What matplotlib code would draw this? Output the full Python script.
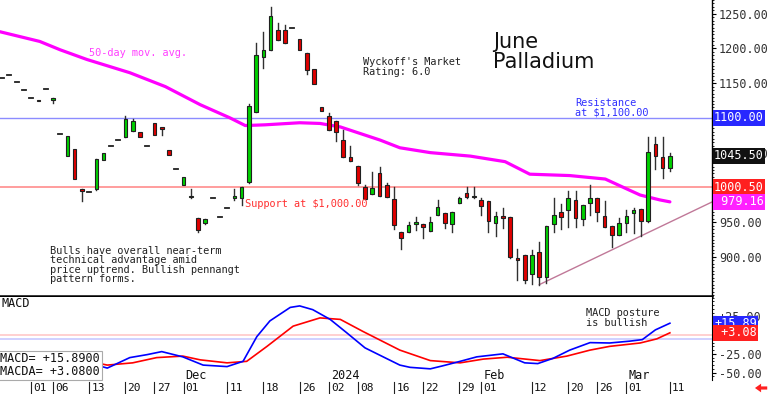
import matplotlib
matplotlib.use("Agg")
import matplotlib.pyplot as plt
import matplotlib.transforms as mtransforms
from matplotlib.patches import Rectangle, FancyArrow
from matplotlib.ticker import MultipleLocator

# Daily bars, index 0 = Oct 26 2023 ... index 92 = Mar 11 2024
opens = [1158, 1161, 1151, 1140, 1128, 1126, 1142, 1126, 1077, 1045,
         1055, 997, 993, 997, 1040, 1059, 1068, 1073, 1081, 1079,
         1059, 1092, 1086, 1054, 1027, 1004, 986, 956, 949, 985,
         957, 970, 985, 984, 1008, 1109, 1188, 1198, 1226, 1227,
         1230, 1214, 1194, 1171, 1116, 1103, 1096, 1068, 1043, 1031,
         1001, 991, 1021, 1004, 983, 936, 936, 948, 948, 937,
         960, 963, 947, 978, 992, 986, 982, 981, 949, 958,
         957, 899, 903, 875, 907, 871, 947, 965, 968, 982,
         955, 978, 984, 959, 945, 932, 949, 963, 969, 951,
         1063, 1044, 1028]
highs = [1158, 1161, 1151, 1140, 1128, 1126, 1142, 1128, 1077, 1074,
         1055, 997, 993, 1041, 1050, 1059, 1068, 1102, 1098, 1079,
         1059, 1092, 1086, 1054, 1027, 1015, 997, 956, 955, 985,
         957, 970, 998, 1001, 1120, 1208, 1223, 1259, 1237, 1234,
         1230, 1214, 1194, 1171, 1116, 1107, 1096, 1083, 1060, 1031,
         1004, 1022, 1030, 1006, 1000, 936, 950, 958, 948, 958,
         982, 963, 965, 986, 1001, 1001, 985, 981, 965, 970,
         957, 911, 903, 910, 921, 945, 985, 976, 995, 995,
         975, 1004, 984, 981, 945, 956, 968, 970, 969, 1073,
         1073, 1073, 1050]
lows = [1158, 1161, 1151, 1140, 1128, 1124, 1142, 1121, 1077, 1045,
        1012, 981, 993, 996, 1040, 1059, 1068, 1073, 1081, 1073,
        1059, 1076, 1075, 1046, 1027, 1004, 985, 936, 947, 985,
        957, 970, 982, 975, 1006, 1109, 1172, 1198, 1212, 1208,
        1230, 1197, 1163, 1149, 1110, 1083, 1067, 1044, 1038, 1003,
        983, 991, 988, 986, 940, 911, 936, 939, 927, 937,
        960, 942, 936, 977, 984, 985, 960, 936, 930, 942,
        898, 867, 862, 861, 859, 862, 936, 940, 943, 943,
        946, 960, 952, 943, 914, 932, 936, 935, 930, 950,
        1027, 1014, 1024]
closes = [1158, 1161, 1151, 1140, 1128, 1124, 1142, 1128, 1077, 1074,
          1012, 995, 993, 1041, 1050, 1059, 1068, 1099, 1096, 1073,
          1059, 1076, 1084, 1046, 1027, 1015, 987, 939, 955, 985,
          957, 970, 987, 1000, 1117, 1190, 1197, 1246, 1212, 1208,
          1230, 1197, 1169, 1149, 1110, 1083, 1079, 1044, 1038, 1006,
          983, 999, 988, 986, 946, 927, 946, 949, 943, 950,
          972, 949, 965, 985, 986, 987, 973, 952, 959, 956,
          900, 896, 867, 903, 871, 945, 960, 958, 984, 956,
          975, 984, 964, 943, 932, 949, 959, 968, 952, 1051,
          1045, 1028, 1045.5]

# 50-day moving average (knots)
ma_idx = [-0.3, 5.2, 8.0, 11.7, 17.6, 22.5, 27.3, 31.4, 33.5, 36.2, 41.0, 43.8,
          46.6, 52.1, 54.8, 59.0, 64.5, 69.3, 72.7, 78.2, 83.1, 85.8, 87.9, 90.6, 92.0]
ma_val = [1224, 1210, 1198, 1184, 1165, 1145, 1119, 1100, 1089, 1090, 1093, 1092,
          1087, 1068, 1057, 1050, 1045, 1037, 1019, 1017, 1012, 999, 989, 982, 979.16]

# pennant support trend line
trend_idx = [74, 97.8]
trend_val = [860, 979]

# MACD and its signal line
macd_idx = [-0.3, 2.5, 6.6, 9.0, 14.5, 17.6, 20.0, 22.0, 24.9, 27.7, 31.0, 33.2, 35.1,
            36.9, 39.7, 41.0, 42.8, 45.2, 47.5, 50.0, 52.5, 54.8, 56.2, 59.0, 60.7,
            63.1, 65.4, 69.0, 72.0, 73.8, 75.9, 78.2, 81.0, 83.7, 86.5, 88.2, 90.0, 92.0]
macd_val = [-26, -24, -23, -29, -44, -30, -26, -22, -29, -40, -42, -35, -2,
            19, 37, 39, 34, 21, 3, -17, -29, -40, -43, -45, -41,
            -35, -29, -25, -37, -38, -31, -20, -10, -10.5, -8, -6, 7, 15.89]
sig_idx = [-0.3, 6.6, 9.0, 14.5, 18.0, 21.3, 24.9, 27.3, 31.0, 33.7, 36.5, 40.1,
           43.8, 46.6, 49.7, 54.8, 59.0, 63.1, 66.3, 69.6, 74.1, 77.8, 81.0, 83.7,
           87.9, 90.2, 92.0]
sig_val = [-29, -26, -29, -40, -37, -30, -28, -33, -37, -35, -15, 12,
           23, 21, 5, -20, -34, -37, -32, -29.5, -34, -28, -20, -15,
           -10.5, -5, 3.08]

date_ticks = [4, 7, 12, 17, 21, 25, 31, 36, 41, 45, 49, 54, 58, 63, 66, 73, 78, 82, 86, 92]
date_labels = ["01", "06", "13", "20", "27", "01", "11", "18", "26", "02", "08",
               "16", "22", "29", "01", "12", "20", "26", "01", "11"]
month_ticks = [25, 45, 66, 86]
month_labels = ["Dec", "2024", "Feb", "Mar"]

# 1000 and 1100 are hidden under the marker boxes on the original
price_ticks = [900, 950, 1050, 1150, 1200, 1250]
macd_ticks = [25, -25, -50]
macd_tick_labels = ["+25.00", "-25.00", "-50.00"]

MONO = "DejaVu Sans Mono"
W, H = 768, 394


def fx(x):
    return x / W


def fy(y):
    return 1 - y / H


fig = plt.figure(figsize=(7.68, 3.94), dpi=100)
ax = fig.add_axes([0, fy(296), fx(712), 1 - fy(296) + 0.001])
ax2 = fig.add_axes([0, fy(380), fx(712), fy(297) - fy(380)])

xlim = (-0.28, 97.8)

# --- price panel ---
ax.axhline(1100, color="#8c8cff", lw=1, zorder=1)
ax.axhline(1000.5, color="#ff8c8c", lw=1.2, zorder=1)
ax.plot(trend_idx, trend_val, color="#c07898", lw=1, zorder=1)
ax.plot(ma_idx, ma_val, color="#ff00ff", lw=2.3, zorder=2, solid_capstyle="round")

for i, (o, h, l, c) in enumerate(zip(opens, highs, lows, closes)):
    if h > max(o, c) or l < min(o, c):
        ax.plot([i, i], [l, h], color="#303030", lw=1, zorder=3)
    if o == c:
        ax.plot([i - 0.28, i + 0.28], [o, o], color="#202020", lw=1.3, zorder=4)
        continue
    col = "#00d000" if c > o else "#e00000"
    ax.add_patch(Rectangle((i - 0.25, min(o, c)), 0.5, max(abs(c - o), 2.2),
                           facecolor=col, edgecolor="#202020", lw=0.8, zorder=4))

ax.set_xlim(*xlim)
ax.set_ylim(843.7, 1270.2)
ax.set_xticks([])
ax.yaxis.tick_right()
ax.set_yticks(price_ticks)
ax.set_yticklabels([f"{v:.2f}" for v in price_ticks], family=MONO, fontsize=8.5, color="#333333")
ax.yaxis.set_minor_locator(MultipleLocator(5))
ax.tick_params(axis="y", which="major", length=3, pad=2)
ax.tick_params(axis="y", which="minor", length=1.5)
for s in ["left", "top"]:
    ax.spines[s].set_visible(False)
ax.spines["bottom"].set_linewidth(1.8)
ax.spines["right"].set_linewidth(1)

yblend = mtransforms.blended_transform_factory(ax.transAxes, ax.transData)
for val, txt, colr in [(1100, "1100.00", "#2828ff"), (1045.5, "1045.50", "#111111"),
                       (1000.5, "1000.50", "#ff2020"), (979.16, "979.16", "#ff20ff")]:
    ax.text(1.003, val, txt.rjust(7), transform=yblend, ha="left", va="center", family=MONO,
            fontsize=8.5, color="white", zorder=10, clip_on=False,
            bbox=dict(boxstyle="square,pad=0.12", fc=colr, ec="none"))

# annotations
fig.text(fx(89), fy(53), "50-day mov. avg.", color="#ff40ff", family=MONO, fontsize=7.4, va="center")
fig.text(fx(363), fy(67), "Wyckoff's Market\nRating: 6.0", color="#222222", family=MONO,
         fontsize=7.4, va="center", linespacing=0.95)
fig.text(fx(493), fy(52), "June\nPalladium", color="#111111", fontsize=15, va="center", linespacing=0.95)
fig.text(fx(575), fy(107.5), "Resistance\nat $1,100.00", color="#3030ff", family=MONO,
         fontsize=7.4, va="center", linespacing=0.95)
fig.text(fx(245), fy(204), "Support at $1,000.00", color="#ff3030", family=MONO, fontsize=7.4, va="center")
fig.text(fx(50), fy(265), "Bulls have overall near-term\ntechnical advantage amid\n"
         "price uptrend. Bullish pennangt\npattern forms.", color="#222222", family=MONO,
         fontsize=7.4, va="center", linespacing=0.95)
fig.text(fx(586), fy(318), "MACD posture\nis bullish", color="#222222", family=MONO,
         fontsize=7.4, va="center", linespacing=0.95)

# --- MACD panel ---
ax2.axhline(0, color="#ffc8c8", lw=1.2, zorder=1)
ax2.axhline(-4.5, color="#c8c8ff", lw=1.2, zorder=1)
ax2.plot(sig_idx, sig_val, color="#ff0000", lw=1.2, zorder=3)
ax2.plot(macd_idx, macd_val, color="#0000ff", lw=1.2, zorder=4)
ax2.set_xlim(*xlim)
ax2.set_ylim(-59.9, 50.9)
ax2.set_xticks([])
ax2.yaxis.tick_right()
ax2.set_yticks(macd_ticks)
ax2.set_yticklabels(macd_tick_labels, family=MONO, fontsize=8.5, color="#333333")
ax2.yaxis.set_minor_locator(MultipleLocator(5))
ax2.tick_params(axis="y", which="major", length=3, pad=2)
ax2.tick_params(axis="y", which="minor", length=1.5)
for s in ["left", "top", "bottom"]:
    ax2.spines[s].set_visible(False)

yblend2 = mtransforms.blended_transform_factory(ax2.transAxes, ax2.transData)
for val, txt, colr in [(macd_val[-1], "+15.89", "#2828ff"), (sig_val[-1], " +3.08", "#ff2020")]:
    ax2.text(1.003, val, txt, transform=yblend2, ha="left", va="center", family=MONO,
             fontsize=8.5, color="white", zorder=10, clip_on=False,
             bbox=dict(boxstyle="square,pad=0.1", fc=colr, ec="none"))

ax2.text(0.002, 0.92, "MACD", transform=ax2.transAxes, family=MONO, fontsize=8.5,
         color="#111111", va="center")
ax2.text(0.0, 0.02, f"MACD= +{macd_val[-1]:.4f}\nMACDA= +{sig_val[-1]:.4f}",
         transform=ax2.transAxes, family=MONO, fontsize=8.5, color="#111111",
         va="bottom", ha="left", linespacing=1.0, zorder=6,
         bbox=dict(boxstyle="square,pad=0.15", fc="white", ec="#aaaaaa", lw=0.8))

for idx, lab in zip(month_ticks, month_labels):
    ax2.text(idx + 0.3, -54.5, lab, family=MONO, fontsize=8.5, color="#111111", va="center")

xblend = mtransforms.blended_transform_factory(ax2.transData, ax2.transAxes)
for idx, lab in zip(date_ticks, date_labels):
    ax2.plot([idx, idx], [-0.03, -0.17], transform=xblend, color="#222222", lw=0.8, clip_on=False)
    ax2.text(idx + 0.3, -0.10, lab, transform=xblend, family=MONO, fontsize=8,
             color="#111111", va="center", ha="left", clip_on=False)

fig.add_artist(FancyArrow(0.999, fy(388), -0.008, 0, width=0.008, head_width=0.022,
                          head_length=0.008, transform=fig.transFigure, color="#ff2020", lw=0))

fig.savefig("out.png", dpi=100)
